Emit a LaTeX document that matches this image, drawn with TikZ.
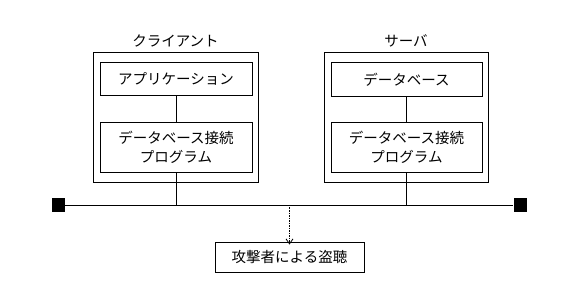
\documentclass[tikz,border=0pt]{standalone}
\usepackage{fontspec}
\setmainfont{Noto Sans CJK JP}
\usepackage{tikz}
\usetikzlibrary{arrows.meta,positioning,calc}
\tikzstyle{box} = [draw, line width=0.9pt, inner sep=0pt, align=center, font=\fontsize{14.5}{19}\selectfont]
\tikzstyle{outer} = [draw, line width=0.9pt, inner sep=0pt]
\tikzstyle{term} = [fill=black, minimum size=13pt, inner sep=0pt]
\tikzstyle{link} = [line width=0.9pt]

\begin{document}
\begin{tikzpicture}[x=1pt,y=-1pt]
\useasboundingbox (0,0) rectangle (576,294);

% Cliente
\node[outer, minimum width=165pt, minimum height=130pt] (client) at (175.5,117) {};
\node[font=\fontsize{14.5}{18}\selectfont] (ctitle) at (175.5,41) {クライアント};
\node[box, minimum width=152pt, minimum height=33pt] (app) at (176,78.5) {アプリケーション};
\node[box, minimum width=152pt, minimum height=50pt] (cprog) at (176,147) {データベース接続\\プログラム};

% Servidor
\node[outer, minimum width=164pt, minimum height=130pt] (server) at (406,117) {};
\node[font=\fontsize{14.5}{18}\selectfont] (stitle) at (406,41) {サーバ};
\node[box, minimum width=151pt, minimum height=34pt] (db) at (406.5,79.5) {データベース};
\node[box, minimum width=151pt, minimum height=50pt] (sprog) at (406.5,147) {データベース接続\\プログラム};

% Bus
\node[term] (lt) at (58.5,205) {};
\node[term] (rt) at (520,205) {};
\draw[link] (lt) -- (rt);

% Conexiones
\draw[link] (app) -- (cprog);
\draw[link] (db) -- (sprog);
\draw[link] (cprog.south) -- (cprog.south |- lt);
\draw[link] (sprog.south) -- (sprog.south |- lt);

% Atacante
\node[box, minimum width=149pt, minimum height=30pt] (attack) at (289.5,257) {攻撃者による盗聴};
\coordinate (tap) at (attack.north |- lt);
\draw[line width=0.8pt, dash pattern=on 1.5pt off 1pt, -{Straight Barb[length=5pt,width=7pt]}] (tap) -- ([yshift=-3pt]attack.north);

\end{tikzpicture}
\end{document}
